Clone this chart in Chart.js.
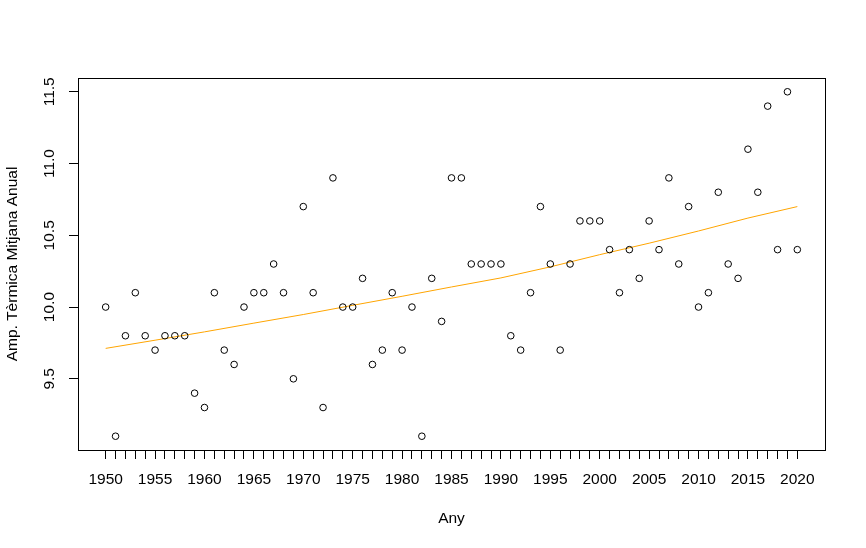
<!DOCTYPE html>
<html lang="ca">
<head>
    <meta charset="UTF-8">
    <title>Amplitud tèrmica mitjana anual</title>
    <script src="https://cdn.jsdelivr.net/npm/chart.js"></script>
    <style>
        body { margin: 0; background: #fff; }
        #chart-container { width: 866px; height: 548px; }
    </style>
</head>
<body>
    <div id="chart-container">
        <canvas id="ampChart"></canvas>
    </div>
    <script>
        // Yearly values
        const years = [
            1950, 1951, 1952, 1953, 1954, 1955, 1956, 1957, 1958, 1959,
            1960, 1961, 1962, 1963, 1964, 1965, 1966, 1967, 1968, 1969,
            1970, 1971, 1972, 1973, 1974, 1975, 1976, 1977, 1978, 1979,
            1980, 1981, 1982, 1983, 1984, 1985, 1986, 1987, 1988, 1989,
            1990, 1991, 1992, 1993, 1994, 1995, 1996, 1997, 1998, 1999,
            2000, 2001, 2002, 2003, 2004, 2005, 2006, 2007, 2008, 2009,
            2010, 2011, 2012, 2013, 2014, 2015, 2016, 2017, 2018, 2019,
            2020
        ];
        const amplitude = [
            10.0, 9.1, 9.8, 10.1, 9.8, 9.7, 9.8, 9.8, 9.8, 9.4,
            9.3, 10.1, 9.7, 9.6, 10.0, 10.1, 10.1, 10.3, 10.1, 9.5,
            10.7, 10.1, 9.3, 10.9, 10.0, 10.0, 10.2, 9.6, 9.7, 10.1,
            9.7, 10.0, 9.1, 10.2, 9.9, 10.9, 10.9, 10.3, 10.3, 10.3,
            10.3, 9.8, 9.7, 10.1, 10.7, 10.3, 9.7, 10.3, 10.6, 10.6,
            10.6, 10.4, 10.1, 10.4, 10.2, 10.6, 10.4, 10.9, 10.3, 10.7,
            10.0, 10.1, 10.8, 10.3, 10.2, 11.1, 10.8, 11.4, 10.4, 11.5,
            10.4
        ];

        // Smoothed trend (orange line), read every 5 years
        const trendYears = [1950, 1955, 1960, 1965, 1970, 1975, 1980, 1985, 1990, 1995, 2000, 2005, 2010, 2015, 2020];
        const trendValues = [9.712, 9.769, 9.827, 9.888, 9.948, 10.012, 10.075, 10.14, 10.203, 10.28, 10.365, 10.445, 10.53, 10.62, 10.70];

        const yTicks = [9.5, 10.0, 10.5, 11.0, 11.5];

        const FONT = '"Liberation Sans", Arial, sans-serif';
        const FONT_SIZE = 15.5;

        // R-like box, rotated y labels and axis titles
        const rStyle = {
            id: 'rStyle',
            afterDraw(chart) {
                const ctx = chart.ctx;
                const a = chart.chartArea;
                const yScale = chart.scales.y;
                ctx.save();
                ctx.strokeStyle = '#000';
                ctx.lineWidth = 1;
                ctx.strokeRect(Math.round(a.left) + 0.5, Math.round(a.top) + 0.5,
                    Math.round(a.right - a.left), Math.round(a.bottom - a.top));

                ctx.fillStyle = '#000';
                ctx.font = FONT_SIZE + 'px ' + FONT;
                ctx.textAlign = 'center';
                ctx.textBaseline = 'middle';
                yTicks.forEach(v => {
                    const py = yScale.getPixelForValue(v);
                    ctx.save();
                    ctx.translate(50, py);
                    ctx.rotate(-Math.PI / 2);
                    ctx.fillText(v.toFixed(1), 0, 0);
                    ctx.restore();
                });

                ctx.save();
                ctx.translate(13, (a.top + a.bottom) / 2);
                ctx.rotate(-Math.PI / 2);
                ctx.fillText('Amp. Tèrmica Mitjana Anual', 0, 0);
                ctx.restore();

                ctx.fillText('Any', (a.left + a.right) / 2, 519);
                ctx.restore();
            }
        };

        const ctx = document.getElementById('ampChart').getContext('2d');

        new Chart(ctx, {
            type: 'scatter',
            data: {
                datasets: [
                    {
                        label: 'Amplitud',
                        data: years.map((y, i) => ({ x: y, y: amplitude[i] })),
                        pointStyle: 'circle',
                        pointRadius: 3.3,
                        pointBorderWidth: 1,
                        pointBorderColor: '#000',
                        pointBackgroundColor: 'rgba(0,0,0,0)'
                    },
                    {
                        type: 'line',
                        label: 'Tendència',
                        data: trendYears.map((y, i) => ({ x: y, y: trendValues[i] })),
                        borderColor: '#FFA500',
                        borderWidth: 1,
                        pointRadius: 0,
                        fill: false,
                        tension: 0
                    }
                ]
            },
            options: {
                responsive: true,
                maintainAspectRatio: false,
                animation: false,
                layout: { padding: { top: 78, right: 41, left: 0, bottom: 0 } },
                plugins: {
                    legend: { display: false },
                    tooltip: { enabled: false }
                },
                scales: {
                    x: {
                        type: 'linear',
                        min: 1947.2,
                        max: 2022.8,
                        afterBuildTicks: s => { s.ticks = years.map(v => ({ value: v })); },
                        afterFit: s => { s.height = 98; },
                        border: { display: false },
                        grid: {
                            drawOnChartArea: false,
                            drawTicks: true,
                            tickLength: 9,
                            tickColor: '#000',
                            color: '#000'
                        },
                        ticks: {
                            autoSkip: false,
                            minRotation: 0,
                            maxRotation: 0,
                            padding: 11,
                            color: '#000',
                            font: { family: FONT, size: FONT_SIZE },
                            callback: v => (v % 5 === 0 ? String(v) : '')
                        }
                    },
                    y: {
                        min: 9.004,
                        max: 11.596,
                        afterBuildTicks: s => { s.ticks = yTicks.map(v => ({ value: v })); },
                        afterFit: s => { s.width = 78; },
                        border: { display: false },
                        grid: {
                            drawOnChartArea: false,
                            drawTicks: true,
                            tickLength: 9,
                            tickColor: '#000',
                            color: '#000'
                        },
                        ticks: { display: false }
                    }
                }
            },
            plugins: [rStyle]
        });
    </script>
</body>
</html>
